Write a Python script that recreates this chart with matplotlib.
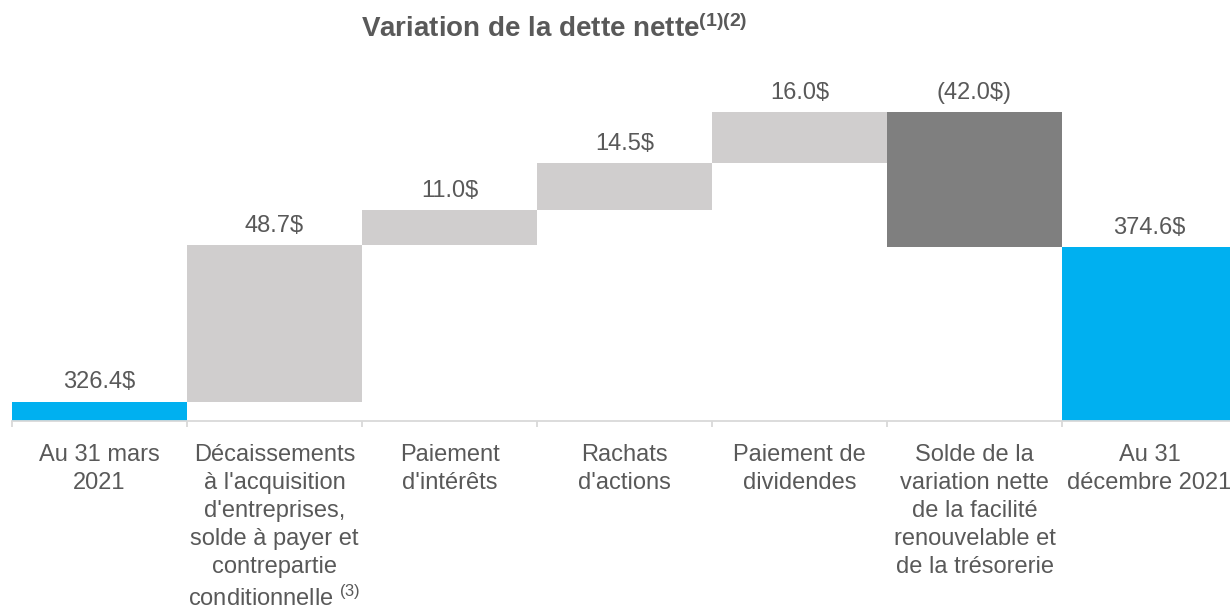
import numpy as np
import matplotlib.pyplot as plt
from matplotlib.ticker import FixedLocator

# data
categories = ["Au 31 mars\n2021",
              "Décaissements\nà l'acquisition\nd'entreprises,\nsolde à payer et\ncontrepartie\nconditionnelle ${}^{(3)}$",
              "Paiement\nd'intérêts",
              "Rachats\nd'actions",
              "Paiement de\ndividendes",
              "Solde de la\nvariation nette\nde la facilité\nrenouvelable et\nde la trésorerie",
              "Au 31\ndécembre 2021"]
values = [326.4, 48.7, 11.0, 14.5, 16.0, -42.0, 374.6]
kinds = ['total', 'up', 'up', 'up', 'up', 'down', 'total']

blue = '#00B0F0'
lightGray = '#D0CECE'
darkGray = '#7F7F7F'
textColor = '#595959'
axisColor = '#D9D9D9'

plt.rcParams['font.family'] = ['Liberation Sans', 'DejaVu Sans']
plt.rcParams['mathtext.fontset'] = 'custom'
plt.rcParams['mathtext.rm'] = 'Liberation Sans'
plt.rcParams['mathtext.it'] = 'Liberation Sans'
plt.rcParams['mathtext.bf'] = 'Liberation Sans:bold'

yMin = 320.2
yMax = 432.8

def main():
    fig = plt.figure(figsize=(12.3, 6.09), dpi=100)
    ax = fig.add_axes([12 / 1230, 0.3079, 1225 / 1230, 0.5936])

    x = np.arange(len(values))
    bottoms = []
    heights = []
    colors = []
    running = 0
    for v, k in zip(values, kinds):
        if k == 'total':
            bottoms.append(yMin)
            heights.append(v - yMin)
            colors.append(blue)
            running = v
        elif k == 'up':
            bottoms.append(running)
            heights.append(v)
            colors.append(lightGray)
            running += v
        else:
            bottoms.append(running + v)
            heights.append(-v)
            colors.append(darkGray)
            running += v

    ax.bar(x, heights, bottom=bottoms, width=1.0, color=colors, linewidth=0, zorder=2)

    for xi, v, b, h in zip(x, values, bottoms, heights):
        label = f"({abs(v):.1f}$)" if v < 0 else f"{v:.1f}$"
        ax.annotate(label, (xi, b + h), xytext=(0, 9.5), textcoords='offset points',
                    ha='center', va='baseline', fontsize=17, color=textColor)

    ax.set_xlim(-0.5, len(values) - 0.5)
    ax.set_ylim(yMin, yMax)

    for s in ['top', 'right', 'left']:
        ax.spines[s].set_visible(False)
    ax.spines['bottom'].set_color(axisColor)
    ax.spines['bottom'].set_linewidth(1.3)
    ax.spines['bottom'].set_zorder(3)
    ax.set_yticks([])

    ax.set_xticks(x)
    ax.set_xticklabels(categories, fontsize=17, color=textColor, linespacing=1.36)
    ax.tick_params(axis='x', which='major', length=0, pad=16)
    ax.xaxis.set_minor_locator(FixedLocator(np.arange(-0.5, len(values), 1.0)))
    ax.tick_params(axis='x', which='minor', length=4.5, width=1.3, color=axisColor)

    fig.text(361 / 1230, 1 - 37 / 609,
             r"Variation de la dette nette$\mathbf{{}^{(1)(2)}}$",
             ha='left', va='baseline', fontsize=20, fontweight='bold', color=textColor)

    fig.savefig('out.png', dpi=100)
    return

if __name__ == '__main__':
    main()
